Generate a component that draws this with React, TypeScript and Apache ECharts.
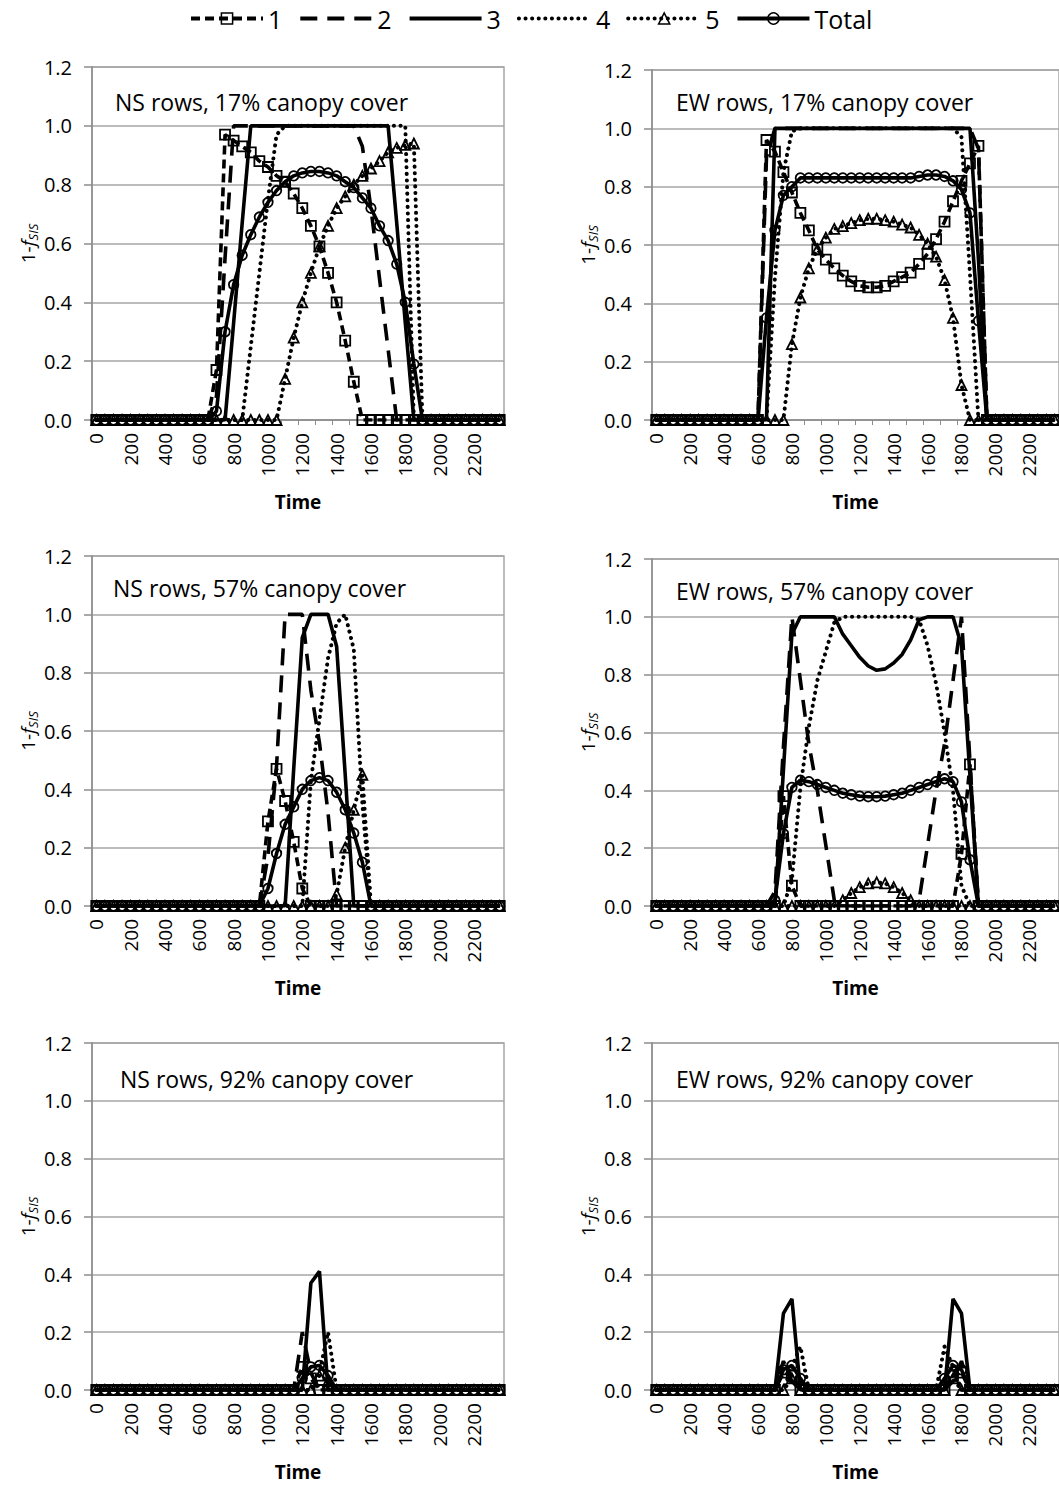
import React, { useEffect, useRef } from "react";
import * as echarts from "echarts";

const FONT = "'Open Sans', 'Noto Sans', sans-serif";

// Time categories (every 50 units, 0..2350)
const TIMES = [
  "0", "50", "100", "150", "200", "250", "300", "350",
  "400", "450", "500", "550", "600", "650", "700", "750",
  "800", "850", "900", "950", "1000", "1050", "1100", "1150",
  "1200", "1250", "1300", "1350", "1400", "1450", "1500", "1550",
  "1600", "1650", "1700", "1750", "1800", "1850", "1900", "1950",
  "2000", "2050", "2100", "2150", "2200", "2250", "2300", "2350",
];

const SERIES_NAMES = ["1", "2", "3", "4", "5", "Total"];

// ---------- NS rows, 17% canopy cover ----------
const NS17_S1 = [
  0, 0, 0, 0, 0, 0, 0, 0,
  0, 0, 0, 0, 0, 0, 0.17, 0.97,
  0.95, 0.93, 0.91, 0.88, 0.86, 0.83, 0.81, 0.77,
  0.72, 0.66, 0.59, 0.5, 0.4, 0.27, 0.13, 0,
  0, 0, 0, 0, 0, 0, 0, 0,
  0, 0, 0, 0, 0, 0, 0, 0,
];
const NS17_S2 = [
  0, 0, 0, 0, 0, 0, 0, 0,
  0, 0, 0, 0, 0, 0, 0.08, 0.55,
  1, 1, 1, 1, 1, 1, 1, 1,
  1, 1, 1, 1, 1, 1, 1, 0.93,
  0.72, 0.48, 0.24, 0, 0, 0, 0, 0,
  0, 0, 0, 0, 0, 0, 0, 0,
];
const NS17_S3 = [
  0, 0, 0, 0, 0, 0, 0, 0,
  0, 0, 0, 0, 0, 0, 0, 0,
  0.33, 0.67, 1, 1, 1, 1, 1, 1,
  1, 1, 1, 1, 1, 1, 1, 1,
  1, 1, 1, 0.67, 0.33, 0, 0, 0,
  0, 0, 0, 0, 0, 0, 0, 0,
];
const NS17_S4 = [
  0, 0, 0, 0, 0, 0, 0, 0,
  0, 0, 0, 0, 0, 0, 0, 0,
  0, 0, 0.25, 0.5, 0.75, 0.97, 1, 1,
  1, 1, 1, 1, 1, 1, 1, 1,
  1, 1, 1, 1, 1, 0, 0, 0,
  0, 0, 0, 0, 0, 0, 0, 0,
];
const NS17_S5 = [
  0, 0, 0, 0, 0, 0, 0, 0,
  0, 0, 0, 0, 0, 0, 0, 0,
  0, 0, 0, 0, 0, 0, 0.14, 0.28,
  0.4, 0.5, 0.59, 0.66, 0.72, 0.76, 0.8, 0.83,
  0.855, 0.88, 0.91, 0.925, 0.935, 0.94, 0, 0,
  0, 0, 0, 0, 0, 0, 0, 0,
];
const NS17_T = [
  0, 0, 0, 0, 0, 0, 0, 0,
  0, 0, 0, 0, 0, 0, 0.03, 0.3,
  0.46, 0.56, 0.63, 0.69, 0.74, 0.78, 0.81, 0.83,
  0.84, 0.845, 0.845, 0.84, 0.83, 0.81, 0.79, 0.755,
  0.72, 0.66, 0.61, 0.53, 0.4, 0.19, 0, 0,
  0, 0, 0, 0, 0, 0, 0, 0,
];

// ---------- EW rows, 17% canopy cover ----------
const EW17_S1 = [
  0, 0, 0, 0, 0, 0, 0, 0,
  0, 0, 0, 0, 0, 0.96, 0.92, 0.85,
  0.78, 0.71, 0.65, 0.585, 0.55, 0.52, 0.495, 0.475,
  0.46, 0.455, 0.455, 0.46, 0.475, 0.49, 0.505, 0.535,
  0.57, 0.62, 0.68, 0.75, 0.82, 0.88, 0.94, 0,
  0, 0, 0, 0, 0, 0, 0, 0,
];
const EW17_S2 = [
  0, 0, 0, 0, 0, 0, 0, 0,
  0, 0, 0, 0, 0, 0.9, 1, 1,
  1, 1, 1, 1, 1, 1, 1, 1,
  1, 1, 1, 1, 1, 1, 1, 1,
  1, 1, 1, 1, 1, 1, 0.93, 0,
  0, 0, 0, 0, 0, 0, 0, 0,
];
const EW17_S3 = [
  0, 0, 0, 0, 0, 0, 0, 0,
  0, 0, 0, 0, 0, 0, 1, 1,
  1, 1, 1, 1, 1, 1, 1, 1,
  1, 1, 1, 1, 1, 1, 1, 1,
  1, 1, 1, 1, 1, 1, 0.55, 0,
  0, 0, 0, 0, 0, 0, 0, 0,
];
const EW17_S4 = [
  0, 0, 0, 0, 0, 0, 0, 0,
  0, 0, 0, 0, 0, 0, 0.49, 0.85,
  0.99, 1, 1, 1, 1, 1, 1, 1,
  1, 1, 1, 1, 1, 1, 1, 1,
  1, 1, 1, 1, 0.97, 0.5, 0, 0,
  0, 0, 0, 0, 0, 0, 0, 0,
];
const EW17_S5 = [
  0, 0, 0, 0, 0, 0, 0, 0,
  0, 0, 0, 0, 0, 0, 0, 0,
  0.26, 0.42, 0.52, 0.585, 0.625, 0.655, 0.665, 0.675,
  0.685, 0.69, 0.69, 0.685, 0.68, 0.67, 0.66, 0.635,
  0.605, 0.56, 0.48, 0.35, 0.12, 0, 0, 0,
  0, 0, 0, 0, 0, 0, 0, 0,
];
const EW17_T = [
  0, 0, 0, 0, 0, 0, 0, 0,
  0, 0, 0, 0, 0, 0.35, 0.65, 0.77,
  0.8, 0.83, 0.83, 0.83, 0.83, 0.83, 0.83, 0.83,
  0.83, 0.83, 0.83, 0.83, 0.83, 0.83, 0.83, 0.835,
  0.84, 0.84, 0.835, 0.82, 0.79, 0.71, 0.34, 0,
  0, 0, 0, 0, 0, 0, 0, 0,
];

// ---------- NS rows, 57% canopy cover ----------
const NS57_S1 = [
  0, 0, 0, 0, 0, 0, 0, 0,
  0, 0, 0, 0, 0, 0, 0, 0,
  0, 0, 0, 0, 0.29, 0.47, 0.36, 0.22,
  0.06, 0, 0, 0, 0, 0, 0, 0,
  0, 0, 0, 0, 0, 0, 0, 0,
  0, 0, 0, 0, 0, 0, 0, 0,
];
const NS57_S2 = [
  0, 0, 0, 0, 0, 0, 0, 0,
  0, 0, 0, 0, 0, 0, 0, 0,
  0, 0, 0, 0, 0.17, 0.48, 1, 1,
  1, 0.74, 0.56, 0.32, 0, 0, 0, 0,
  0, 0, 0, 0, 0, 0, 0, 0,
  0, 0, 0, 0, 0, 0, 0, 0,
];
const NS57_S3 = [
  0, 0, 0, 0, 0, 0, 0, 0,
  0, 0, 0, 0, 0, 0, 0, 0,
  0, 0, 0, 0, 0, 0, 0, 0.47,
  0.92, 1, 1, 1, 0.89, 0.45, 0, 0,
  0, 0, 0, 0, 0, 0, 0, 0,
  0, 0, 0, 0, 0, 0, 0, 0,
];
const NS57_S4 = [
  0, 0, 0, 0, 0, 0, 0, 0,
  0, 0, 0, 0, 0, 0, 0, 0,
  0, 0, 0, 0, 0, 0, 0, 0,
  0, 0.43, 0.64, 0.85, 0.97, 1, 0.88, 0.35,
  0, 0, 0, 0, 0, 0, 0, 0,
  0, 0, 0, 0, 0, 0, 0, 0,
];
const NS57_S5 = [
  0, 0, 0, 0, 0, 0, 0, 0,
  0, 0, 0, 0, 0, 0, 0, 0,
  0, 0, 0, 0, 0, 0, 0, 0,
  0, 0, 0, 0, 0.04, 0.2, 0.33, 0.45,
  0, 0, 0, 0, 0, 0, 0, 0,
  0, 0, 0, 0, 0, 0, 0, 0,
];
const NS57_T = [
  0, 0, 0, 0, 0, 0, 0, 0,
  0, 0, 0, 0, 0, 0, 0, 0,
  0, 0, 0, 0, 0.06, 0.18, 0.28, 0.34,
  0.4, 0.43, 0.44, 0.43, 0.39, 0.33, 0.25, 0.15,
  0, 0, 0, 0, 0, 0, 0, 0,
  0, 0, 0, 0, 0, 0, 0, 0,
];

// ---------- EW rows, 57% canopy cover ----------
const EW57_S1 = [
  0, 0, 0, 0, 0, 0, 0, 0,
  0, 0, 0, 0, 0, 0, 0, 0.38,
  0.07, 0, 0, 0, 0, 0, 0, 0,
  0, 0, 0, 0, 0, 0, 0, 0,
  0, 0, 0, 0, 0.18, 0.49, 0, 0,
  0, 0, 0, 0, 0, 0, 0, 0,
];
const EW57_S2 = [
  0, 0, 0, 0, 0, 0, 0, 0,
  0, 0, 0, 0, 0, 0, 0.05, 0.55,
  1, 0.78, 0.56, 0.4, 0.21, 0.02, 0, 0,
  0, 0, 0, 0, 0, 0, 0, 0.02,
  0.21, 0.4, 0.56, 0.78, 1, 0.5, 0, 0,
  0, 0, 0, 0, 0, 0, 0, 0,
];
const EW57_S3 = [
  0, 0, 0, 0, 0, 0, 0, 0,
  0, 0, 0, 0, 0, 0, 0, 0.47,
  0.94, 1, 1, 1, 1, 1, 0.94, 0.9,
  0.86, 0.83, 0.815, 0.82, 0.84, 0.87, 0.92, 0.99,
  1, 1, 1, 1, 0.9, 0.45, 0, 0,
  0, 0, 0, 0, 0, 0, 0, 0,
];
const EW57_S4 = [
  0, 0, 0, 0, 0, 0, 0, 0,
  0, 0, 0, 0, 0, 0, 0, 0,
  0.09, 0.41, 0.62, 0.78, 0.88, 0.98, 1, 1,
  1, 1, 1, 1, 1, 1, 1, 0.99,
  0.9, 0.77, 0.6, 0.4, 0.07, 0, 0, 0,
  0, 0, 0, 0, 0, 0, 0, 0,
];
const EW57_S5 = [
  0, 0, 0, 0, 0, 0, 0, 0,
  0, 0, 0, 0, 0, 0, 0, 0,
  0, 0, 0, 0, 0, 0, 0.02, 0.045,
  0.065, 0.078, 0.082, 0.078, 0.065, 0.045, 0.02, 0,
  0, 0, 0, 0, 0, 0, 0, 0,
  0, 0, 0, 0, 0, 0, 0, 0,
];
const EW57_T = [
  0, 0, 0, 0, 0, 0, 0, 0,
  0, 0, 0, 0, 0, 0, 0.02, 0.25,
  0.41, 0.435, 0.43, 0.42, 0.41, 0.4, 0.39, 0.385,
  0.38, 0.378, 0.378, 0.38, 0.385, 0.39, 0.4, 0.41,
  0.42, 0.43, 0.44, 0.43, 0.36, 0.16, 0, 0,
  0, 0, 0, 0, 0, 0, 0, 0,
];

// ---------- NS rows, 92% canopy cover ----------
const NS92_S1 = [
  0, 0, 0, 0, 0, 0, 0, 0,
  0, 0, 0, 0, 0, 0, 0, 0,
  0, 0, 0, 0, 0, 0, 0, 0,
  0.08, 0.04, 0, 0, 0, 0, 0, 0,
  0, 0, 0, 0, 0, 0, 0, 0,
  0, 0, 0, 0, 0, 0, 0, 0,
];
const NS92_S2 = [
  0, 0, 0, 0, 0, 0, 0, 0,
  0, 0, 0, 0, 0, 0, 0, 0,
  0, 0, 0, 0, 0, 0, 0, 0,
  0.2, 0.06, 0, 0, 0, 0, 0, 0,
  0, 0, 0, 0, 0, 0, 0, 0,
  0, 0, 0, 0, 0, 0, 0, 0,
];
const NS92_S3 = [
  0, 0, 0, 0, 0, 0, 0, 0,
  0, 0, 0, 0, 0, 0, 0, 0,
  0, 0, 0, 0, 0, 0, 0, 0,
  0, 0.37, 0.41, 0, 0, 0, 0, 0,
  0, 0, 0, 0, 0, 0, 0, 0,
  0, 0, 0, 0, 0, 0, 0, 0,
];
const NS92_S4 = [
  0, 0, 0, 0, 0, 0, 0, 0,
  0, 0, 0, 0, 0, 0, 0, 0,
  0, 0, 0, 0, 0, 0, 0, 0,
  0, 0, 0.06, 0.2, 0, 0, 0, 0,
  0, 0, 0, 0, 0, 0, 0, 0,
  0, 0, 0, 0, 0, 0, 0, 0,
];
const NS92_S5 = [
  0, 0, 0, 0, 0, 0, 0, 0,
  0, 0, 0, 0, 0, 0, 0, 0,
  0, 0, 0, 0, 0, 0, 0, 0,
  0, 0, 0.05, 0.03, 0, 0, 0, 0,
  0, 0, 0, 0, 0, 0, 0, 0,
  0, 0, 0, 0, 0, 0, 0, 0,
];
const NS92_T = [
  0, 0, 0, 0, 0, 0, 0, 0,
  0, 0, 0, 0, 0, 0, 0, 0,
  0, 0, 0, 0, 0, 0, 0, 0,
  0.04, 0.08, 0.085, 0.05, 0, 0, 0, 0,
  0, 0, 0, 0, 0, 0, 0, 0,
  0, 0, 0, 0, 0, 0, 0, 0,
];

// ---------- EW rows, 92% canopy cover ----------
const EW92_S1 = [
  0, 0, 0, 0, 0, 0, 0, 0,
  0, 0, 0, 0, 0, 0, 0, 0.06,
  0.05, 0, 0, 0, 0, 0, 0, 0,
  0, 0, 0, 0, 0, 0, 0, 0,
  0, 0, 0, 0.05, 0.06, 0, 0, 0,
  0, 0, 0, 0, 0, 0, 0, 0,
];
const EW92_S2 = [
  0, 0, 0, 0, 0, 0, 0, 0,
  0, 0, 0, 0, 0, 0, 0, 0.1,
  0.03, 0, 0, 0, 0, 0, 0, 0,
  0, 0, 0, 0, 0, 0, 0, 0,
  0, 0, 0, 0.03, 0.1, 0, 0, 0,
  0, 0, 0, 0, 0, 0, 0, 0,
];
const EW92_S3 = [
  0, 0, 0, 0, 0, 0, 0, 0,
  0, 0, 0, 0, 0, 0, 0, 0.265,
  0.315, 0, 0, 0, 0, 0, 0, 0,
  0, 0, 0, 0, 0, 0, 0, 0,
  0, 0, 0, 0.315, 0.265, 0, 0, 0,
  0, 0, 0, 0, 0, 0, 0, 0,
];
const EW92_S4 = [
  0, 0, 0, 0, 0, 0, 0, 0,
  0, 0, 0, 0, 0, 0, 0, 0,
  0.08, 0.15, 0, 0, 0, 0, 0, 0,
  0, 0, 0, 0, 0, 0, 0, 0,
  0, 0, 0.15, 0.08, 0, 0, 0, 0,
  0, 0, 0, 0, 0, 0, 0, 0,
];
const EW92_S5 = [
  0, 0, 0, 0, 0, 0, 0, 0,
  0, 0, 0, 0, 0, 0, 0, 0,
  0.04, 0, 0, 0, 0, 0, 0, 0,
  0, 0, 0, 0, 0, 0, 0, 0,
  0, 0, 0, 0.04, 0, 0, 0, 0,
  0, 0, 0, 0, 0, 0, 0, 0,
];
const EW92_T = [
  0, 0, 0, 0, 0, 0, 0, 0,
  0, 0, 0, 0, 0, 0, 0, 0.07,
  0.085, 0.04, 0, 0, 0, 0, 0, 0,
  0, 0, 0, 0, 0, 0, 0, 0,
  0, 0, 0.04, 0.085, 0.07, 0, 0, 0,
  0, 0, 0, 0, 0, 0, 0, 0,
];

const PANEL_TITLES = [
  "NS rows, 17% canopy cover",
  "EW rows, 17% canopy cover",
  "NS rows, 57% canopy cover",
  "EW rows, 57% canopy cover",
  "NS rows, 92% canopy cover",
  "EW rows, 92% canopy cover",
];

const PANEL_DATA = [
  [NS17_S1, NS17_S2, NS17_S3, NS17_S4, NS17_S5, NS17_T],
  [EW17_S1, EW17_S2, EW17_S3, EW17_S4, EW17_S5, EW17_T],
  [NS57_S1, NS57_S2, NS57_S3, NS57_S4, NS57_S5, NS57_T],
  [EW57_S1, EW57_S2, EW57_S3, EW57_S4, EW57_S5, EW57_T],
  [NS92_S1, NS92_S2, NS92_S3, NS92_S4, NS92_S5, NS92_T],
  [EW92_S1, EW92_S2, EW92_S3, EW92_S4, EW92_S5, EW92_T],
];

// layout (pixels)
const GRIDS = [
  { left: 92, top: 67, width: 412, height: 353 },
  { left: 652, top: 70, width: 412, height: 350 },
  { left: 92, top: 556, width: 412, height: 350 },
  { left: 652, top: 559, width: 412, height: 347 },
  { left: 92, top: 1043, width: 412, height: 347 },
  { left: 652, top: 1043, width: 412, height: 347 },
];
const TITLE_POS = [
  [115, 102],
  [676, 102],
  [113, 588],
  [676, 591],
  [120, 1079],
  [676, 1079],
];

const GRID_GRAY = "#a6a6a6";
const AXIS_GRAY = "#8c8c8c";
const NOFILL = "rgba(255,255,255,0)";

const STYLES: any[] = [
  { symbol: "rect", symbolSize: 10, marker: true, line: { type: [9, 5], width: 3.6 } },
  { symbol: "none", symbolSize: 0, marker: false, line: { type: [17, 10], width: 3.6 } },
  { symbol: "none", symbolSize: 0, marker: false, line: { type: "solid", width: 3.6 } },
  { symbol: "none", symbolSize: 0, marker: false, line: { type: [0.1, 6.5], width: 4, cap: "round" } },
  { symbol: "triangle", symbolSize: 10, marker: true, line: { type: [0.1, 6.5], width: 4, cap: "round" } },
  { symbol: "circle", symbolSize: 9.5, marker: true, line: { type: "solid", width: 3.6 } },
];

function buildOption() {
  const grid = GRIDS.map((g) => ({
    ...g,
    show: true,
    borderColor: GRID_GRAY,
    borderWidth: 1.5,
    containLabel: false,
  }));
  const xAxis = GRIDS.map((_, i) => ({
    type: "category",
    gridIndex: i,
    data: TIMES,
    boundaryGap: true,
    axisLine: { show: true, lineStyle: { color: AXIS_GRAY, width: 1.5 } },
    axisTick: { show: true, interval: 1, length: 5, lineStyle: { color: AXIS_GRAY } },
    axisLabel: {
      interval: 3,
      rotate: 90,
      margin: 13,
      fontSize: 19,
      color: "#000",
      fontFamily: FONT,
    },
    splitLine: { show: false },
    name: "Time",
    nameLocation: "middle",
    nameGap: 72,
    nameTextStyle: { fontSize: 19, fontWeight: "bold", color: "#000", fontFamily: FONT },
  }));
  const yAxis = GRIDS.map((_, i) => ({
    type: "value",
    gridIndex: i,
    min: 0,
    max: 1.2,
    interval: 0.2,
    axisLine: { show: true, lineStyle: { color: AXIS_GRAY, width: 1.5 } },
    axisTick: { show: true, length: 8, lineStyle: { color: AXIS_GRAY, width: 1.5 } },
    axisLabel: {
      formatter: (v: number) => v.toFixed(1),
      margin: 20,
      fontSize: 20,
      color: "#000",
      fontFamily: FONT,
    },
    splitLine: { show: true, lineStyle: { color: GRID_GRAY, width: 1.5 } },
    name: "{n|1-}{i|f}{s|SIS}",
    nameLocation: "middle",
    nameRotate: 90,
    nameGap: 50,
    nameTextStyle: {
      color: "#000",
      fontFamily: FONT,
      rich: {
        n: { fontSize: 19, fontFamily: FONT, color: "#000", lineHeight: 24 },
        i: { fontSize: 19, fontFamily: FONT, fontStyle: "italic", color: "#000", lineHeight: 24 },
        s: {
          fontSize: 13,
          fontFamily: FONT,
          fontStyle: "italic",
          color: "#000",
          lineHeight: 14,
          verticalAlign: "bottom",
        },
      },
    },
  }));

  const series: any[] = [];
  PANEL_DATA.forEach((panel, pi) => {
    panel.forEach((values, si) => {
      const st = STYLES[si];
      series.push({
        type: "line",
        name: SERIES_NAMES[si],
        xAxisIndex: pi,
        yAxisIndex: pi,
        data: values,
        symbol: st.marker ? st.symbol : "none",
        symbolSize: st.symbolSize,
        showSymbol: st.marker,
        showAllSymbol: true,
        silent: true,
        z: 2 + si,
        lineStyle: { color: "#000", ...st.line },
        itemStyle: st.marker
          ? { color: NOFILL, borderColor: "#000", borderWidth: 1.8 }
          : { color: NOFILL, borderColor: NOFILL, borderWidth: 0 },
        emphasis: { disabled: true },
      });
    });
  });

  const graphic = PANEL_TITLES.map((t, i) => ({
    type: "text",
    x: TITLE_POS[i][0],
    y: TITLE_POS[i][1],
    silent: true,
    style: {
      text: t,
      fontSize: 23,
      fontFamily: FONT,
      fill: "#000",
      verticalAlign: "middle",
    },
  }));

  return {
    animation: false,
    backgroundColor: "#fff",
    legend: {
      data: SERIES_NAMES,
      left: 189,
      top: 6,
      itemWidth: 72,
      itemHeight: 14,
      itemGap: 16,
      padding: 0,
      lineStyle: { width: 4 },
      itemStyle: { borderWidth: 1.5 },
      textStyle: { fontSize: 25, color: "#000", fontFamily: FONT },
      selectedMode: false,
    },
    grid,
    xAxis,
    yAxis,
    series,
    graphic,
  };
}

export default function App() {
  const ref = useRef<HTMLDivElement>(null);
  useEffect(() => {
    if (!ref.current) return;
    const chart = echarts.init(ref.current, undefined, { renderer: "svg" });
    chart.setOption(buildOption() as any);
    return () => chart.dispose();
  }, []);
  return (
    <div
      ref={ref}
      style={{ position: "absolute", left: 0, top: 0, width: 1059, height: 1485, background: "#fff" }}
    />
  );
}
